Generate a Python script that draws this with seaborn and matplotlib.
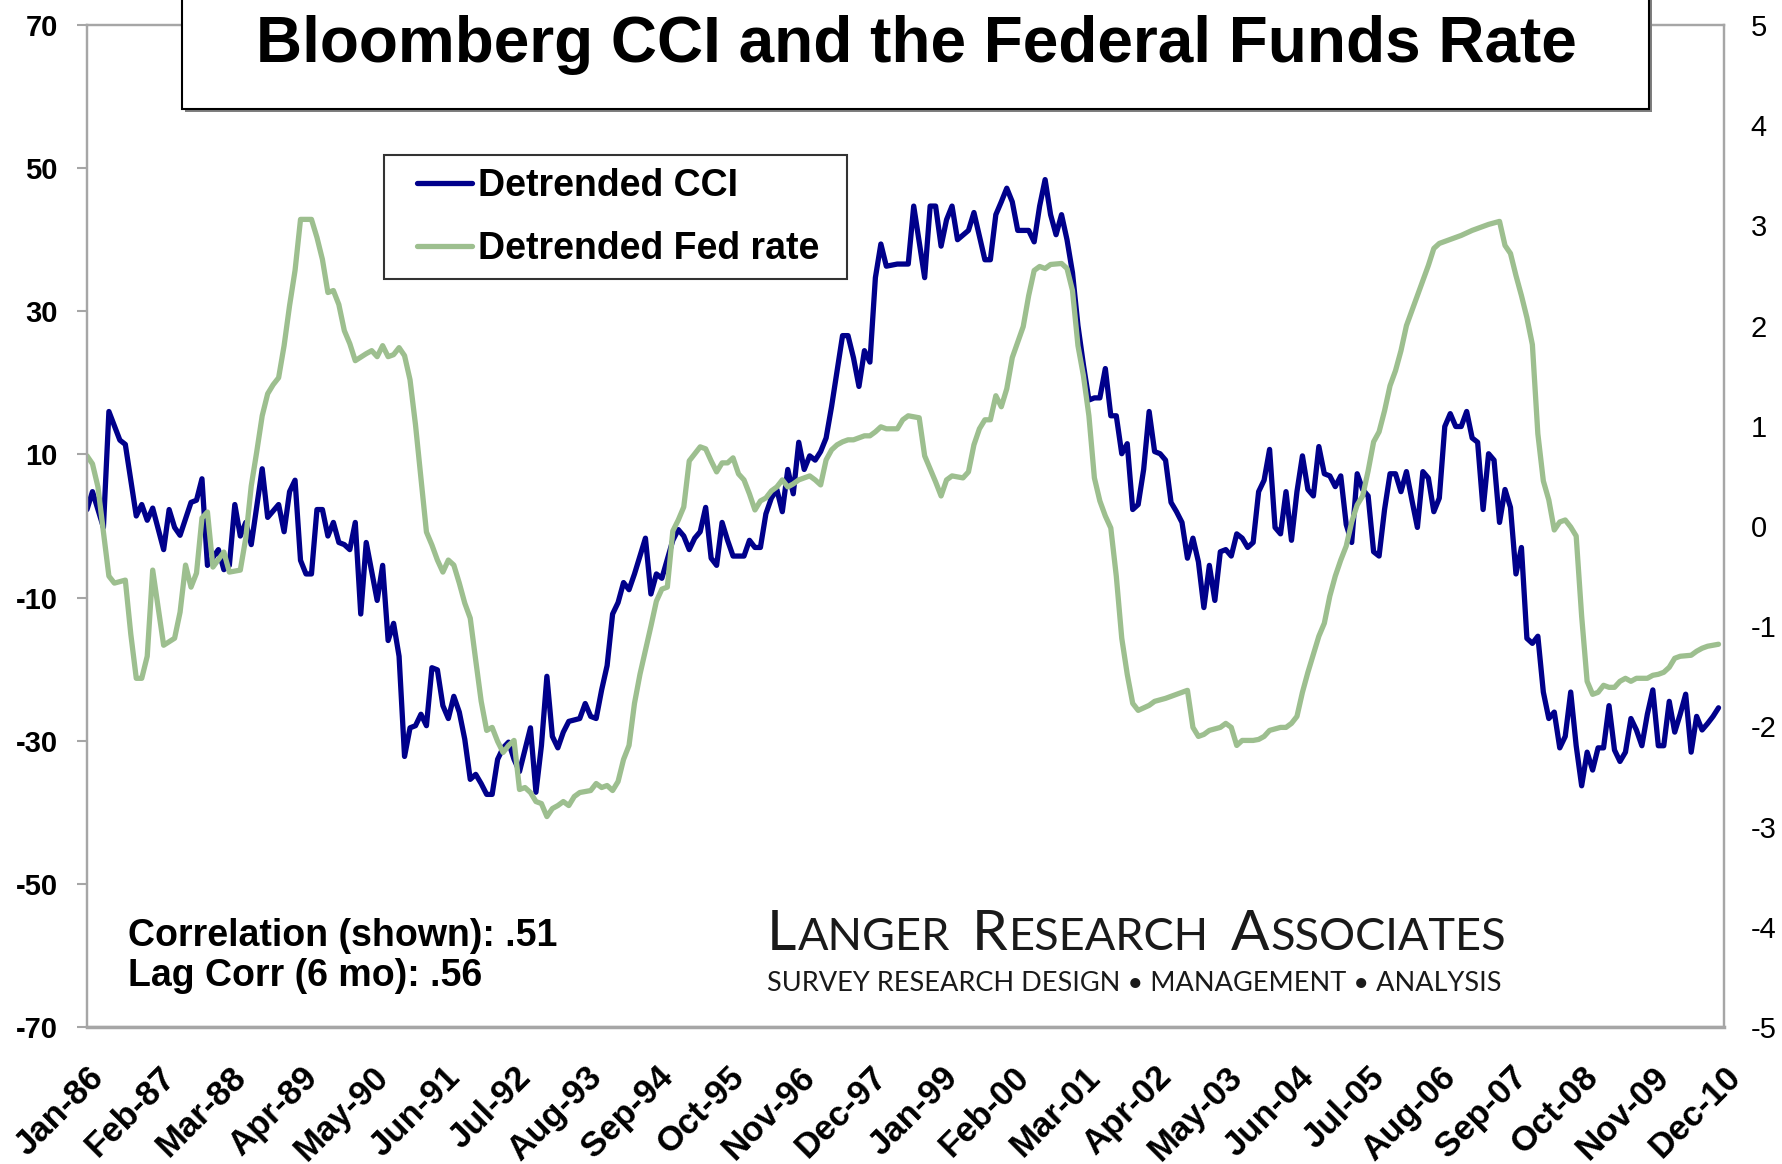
import seaborn as sns
import matplotlib.pyplot as plt
from matplotlib.patches import Rectangle
from matplotlib.lines import Line2D
from matplotlib.transforms import ScaledTranslation

# months counted from Jan-86, with the detrended CCI read at each turn of the line
cci_month = [
    0, 1, 3, 4, 6, 7, 9, 10, 11, 12,
    14, 15, 16, 17, 19, 20, 21, 22, 24, 25,
    26, 27, 28, 29, 30, 32, 33, 35, 36, 37,
    38, 39, 40, 41, 42, 43, 44, 45, 46, 47,
    48, 49, 50, 51, 53, 54, 55, 56, 57, 58,
    59, 60, 61, 62, 63, 64, 65, 66, 67, 68,
    69, 70, 71, 72, 73, 74, 75, 76, 77, 78,
    79, 81, 82, 83, 84, 85, 86, 87, 88, 90,
    91, 92, 93, 94, 95, 96, 97, 98, 99, 100,
    102, 103, 104, 105, 107, 108, 109, 110, 111, 112,
    113, 114, 115, 116, 117, 118, 120, 121, 122, 123,
    124, 125, 126, 127, 128, 129, 130, 131, 132, 133,
    134, 135, 136, 137, 138, 139, 140, 141, 142, 143,
    144, 145, 146, 148, 150, 151, 153, 154, 155, 156,
    157, 158, 159, 161, 162, 164, 165, 166, 167, 168,
    169, 170, 172, 173, 174, 175, 176, 177, 178, 179,
    180, 181, 182, 183, 184, 185, 186, 187, 188, 189,
    190, 191, 192, 193, 194, 195, 196, 197, 198, 199,
    200, 201, 202, 203, 204, 205, 206, 207, 208, 209,
    210, 211, 212, 213, 214, 215, 216, 217, 218, 219,
    220, 221, 222, 223, 224, 225, 226, 227, 228, 229,
    230, 231, 232, 233, 234, 235, 236, 237, 238, 239,
    240, 241, 242, 243, 244, 245, 246, 247, 248, 249,
    250, 251, 252, 253, 254, 255, 256, 257, 258, 259,
    260, 261, 262, 263, 264, 265, 266, 267, 268, 269,
    270, 271, 272, 273, 274, 275, 276, 277, 278, 279,
    280, 281, 282, 283, 284, 285, 286, 287, 288, 289,
    290, 291, 292, 293, 294, 295, 296, 297, 298,
]
cci_value = [
    2.3, 4.8, -0.2, 16, 12, 11.4, 1.4, 3, 0.8, 2.5,
    -3.3, 2.3, -0.2, -1.3, 3.3, 3.6, 6.6, -5.5, -3.3, -6.1,
    -5.5, 3, -1.4, 0.5, -2.6, 8, 1.2, 3, -0.8, 4.8,
    6.4, -4.8, -6.7, -6.7, 2.3, 2.3, -1.4, 0.5, -2.3, -2.6,
    -3.3, 0.5, -12.3, -2.3, -10.4, -5.5, -16, -13.6, -18.2, -32.2,
    -28.2, -27.9, -26.3, -27.9, -19.8, -20.1, -25.1, -26.9, -23.8, -26,
    -29.8, -35.4, -34.7, -36, -37.5, -37.5, -32.6, -31, -30.2, -32.6,
    -34.3, -28.2, -37.2, -30.7, -21, -29.4, -31, -28.8, -27.3, -26.9,
    -24.8, -26.6, -26.9, -22.9, -19.5, -12.3, -10.7, -7.9, -8.9, -6.7,
    -1.7, -9.5, -6.7, -7.3, -2, -0.5, -1.4, -3.3, -1.7, -0.8,
    2.6, -4.5, -5.5, 0.5, -2, -4.2, -4.2, -2, -3, -3,
    1.7, 3.9, 5.1, 2, 7.9, 4.5, 11.7, 7.9, 9.8, 9.2,
    10.4, 12.3, 16.7, 21.7, 26.6, 26.6, 23.5, 19.5, 24.5, 22.9,
    34.7, 39.4, 36.3, 36.6, 36.6, 44.7, 34.7, 44.7, 44.7, 39.1,
    42.8, 44.7, 40, 41.3, 43.8, 37.2, 37.2, 43.5, 45.3, 47.2,
    45.3, 41.3, 41.3, 39.7, 44.7, 48.4, 43.5, 40.7, 43.5, 40,
    35.4, 28, 22.5, 17.6, 17.9, 17.9, 22, 15.4, 15.4, 10.1,
    11.5, 2.3, 3, 7.9, 16, 10.4, 10.1, 9.2, 3.3, 2,
    0.5, -4.5, -1.7, -5, -11.4, -5.5, -10.4, -3.6, -3.3, -4.2,
    -1.1, -1.7, -3, -2.3, 4.8, 6.4, 10.7, -0.2, -1.1, 4.8,
    -2, 4.8, 9.8, 5.1, 4.2, 11.1, 7.3, 7, 5.5, 7,
    0.2, -2.3, 7.3, 5.1, 4.2, -3.6, -4.2, 2.3, 7.3, 7.3,
    4.8, 7.6, 3.6, -0.2, 7.6, 6.7, 2, 3.9, 13.9, 15.7,
    13.9, 13.9, 16, 12.3, 11.7, 2.3, 10.1, 9.2, 0.5, 5.1,
    2.6, -6.7, -3, -15.7, -16.4, -15.4, -23.2, -26.9, -26, -31,
    -29.4, -23.2, -30.7, -36.3, -31.6, -34.1, -31, -31, -25.1, -31.3,
    -32.9, -31.6, -26.9, -28.5, -30.7, -26.3, -22.9, -30.7, -30.7, -24.5,
    -28.8, -26.3, -23.5, -31.6, -26.6, -28.5, -27.6, -26.6, -25.4,
]

# detrended fed funds rate (right axis), same month count
fed_month = [
    0, 1, 2, 3, 4, 5, 7, 8, 9, 10,
    11, 12, 14, 16, 17, 18, 19, 20, 21, 22,
    23, 25, 26, 28, 29, 30, 31, 32, 33, 34,
    35, 36, 37, 38, 39, 41, 42, 43, 44, 45,
    46, 47, 48, 49, 51, 52, 53, 54, 55, 56,
    57, 58, 59, 60, 61, 62, 63, 64, 65, 66,
    67, 68, 69, 70, 71, 72, 73, 74, 75, 76,
    77, 78, 79, 80, 81, 82, 83, 84, 85, 86,
    87, 88, 89, 90, 92, 93, 94, 95, 96, 97,
    98, 99, 100, 101, 102, 103, 104, 105, 106, 107,
    108, 109, 110, 111, 112, 113, 114, 115, 116, 117,
    118, 119, 120, 121, 122, 123, 124, 125, 126, 127,
    128, 129, 130, 131, 132, 133, 134, 135, 136, 137,
    138, 139, 140, 141, 142, 143, 144, 145, 146, 148,
    149, 150, 152, 153, 155, 156, 157, 158, 160, 161,
    162, 163, 164, 165, 166, 167, 168, 169, 171, 172,
    173, 174, 175, 176, 178, 179, 180, 181, 182, 183,
    184, 185, 186, 187, 188, 189, 190, 191, 192, 194,
    195, 197, 198, 200, 201, 202, 203, 204, 205, 207,
    208, 209, 210, 211, 213, 214, 215, 216, 218, 219,
    220, 221, 222, 223, 224, 225, 226, 227, 228, 229,
    230, 231, 232, 233, 234, 235, 236, 237, 238, 239,
    240, 241, 242, 243, 244, 245, 246, 247, 248, 250,
    251, 253, 254, 256, 258, 259, 260, 261, 262, 263,
    264, 265, 266, 267, 268, 269, 270, 271, 272, 273,
    274, 275, 276, 277, 278, 279, 280, 281, 282, 283,
    285, 286, 287, 288, 289, 290, 291, 293, 294, 295,
    296, 298,
]
fed_value = [
    0.70, 0.62, 0.39, -0.06, -0.50, -0.57, -0.54, -1.08, -1.52, -1.52,
    -1.30, -0.44, -1.19, -1.12, -0.86, -0.39, -0.61, -0.47, 0.08, 0.14,
    -0.41, -0.26, -0.46, -0.44, -0.12, 0.40, 0.74, 1.10, 1.32, 1.41,
    1.48, 1.80, 2.20, 2.55, 3.06, 3.06, 2.88, 2.66, 2.33, 2.35,
    2.21, 1.95, 1.82, 1.65, 1.72, 1.75, 1.69, 1.80, 1.69, 1.71,
    1.78, 1.70, 1.46, 1.01, 0.48, -0.06, -0.19, -0.34, -0.46, -0.34,
    -0.39, -0.57, -0.77, -0.92, -1.34, -1.75, -2.04, -2.01, -2.15, -2.26,
    -2.19, -2.14, -2.63, -2.61, -2.66, -2.75, -2.77, -2.90, -2.82, -2.79,
    -2.75, -2.79, -2.70, -2.66, -2.64, -2.57, -2.61, -2.59, -2.64, -2.55,
    -2.33, -2.19, -1.77, -1.48, -1.24, -1.00, -0.75, -0.63, -0.61, -0.05,
    0.06, 0.19, 0.65, 0.72, 0.79, 0.77, 0.65, 0.54, 0.63, 0.63,
    0.68, 0.52, 0.46, 0.32, 0.16, 0.25, 0.28, 0.35, 0.39, 0.46,
    0.39, 0.42, 0.46, 0.48, 0.50, 0.46, 0.41, 0.66, 0.76, 0.81,
    0.84, 0.86, 0.86, 0.88, 0.90, 0.90, 0.94, 0.99, 0.97, 0.97,
    1.06, 1.10, 1.08, 0.70, 0.44, 0.30, 0.46, 0.50, 0.48, 0.54,
    0.81, 0.97, 1.06, 1.06, 1.30, 1.19, 1.37, 1.68, 1.99, 2.30,
    2.55, 2.59, 2.57, 2.61, 2.62, 2.57, 2.35, 1.80, 1.50, 1.10,
    0.48, 0.25, 0.10, -0.02, -0.50, -1.12, -1.48, -1.77, -1.84, -1.79,
    -1.75, -1.72, -1.70, -1.66, -1.64, -2.01, -2.10, -2.08, -2.04, -2.01,
    -1.97, -2.01, -2.19, -2.14, -2.14, -2.13, -2.10, -2.04, -2.01, -2.01,
    -1.97, -1.90, -1.66, -1.46, -1.28, -1.10, -0.97, -0.70, -0.50, -0.34,
    -0.20, 0.04, 0.21, 0.30, 0.55, 0.84, 0.94, 1.15, 1.40, 1.55,
    1.75, 2.00, 2.15, 2.30, 2.45, 2.60, 2.77, 2.82, 2.84, 2.88,
    2.90, 2.95, 2.97, 3.01, 3.04, 2.80, 2.72, 2.50, 2.30, 2.08,
    1.81, 0.92, 0.45, 0.26, -0.04, 0.04, 0.06, -0.01, -0.10, -0.90,
    -1.55, -1.68, -1.66, -1.59, -1.61, -1.61, -1.55, -1.52, -1.55, -1.52,
    -1.52, -1.49, -1.48, -1.46, -1.41, -1.32, -1.30, -1.29, -1.25, -1.22,
    -1.20, -1.18,
]

tick_labels = ["Jan-86", "Feb-87", "Mar-88", "Apr-89", "May-90", "Jun-91",
               "Jul-92", "Aug-93", "Sep-94", "Oct-95", "Nov-96", "Dec-97",
               "Jan-99", "Feb-00", "Mar-01", "Apr-02", "May-03", "Jun-04",
               "Jul-05", "Aug-06", "Sep-07", "Oct-08", "Nov-09", "Dec-10"]
tick_months = [13 * i for i in range(len(tick_labels))]

assert len(cci_month) == len(cci_value)
assert len(fed_month) == len(fed_value)

navy = "#00008b"
sage = "#9dbf8f"
axis_grey = "#a6a6a6"

sns.set_theme(style="white")
plt.rcParams["font.family"] = ["Liberation Sans", "DejaVu Sans"]
plt.rcParams["text.color"] = "black"
plt.rcParams["xtick.color"] = "black"
plt.rcParams["ytick.color"] = "black"
plt.rcParams["axes.unicode_minus"] = False

W, H = 1783, 1164
fig = plt.figure(figsize=(W / 100, H / 100), dpi=100)
ax = fig.add_axes([87 / W, 1 - 1027 / H, (1724 - 87) / W, (1027 - 25) / H])

sns.lineplot(x=cci_month, y=cci_value, ax=ax, color=navy, linewidth=3.8)
ax.set_xlim(0, 299)
ax.set_ylim(-70, 70)
ax.set_yticks(range(-70, 71, 20))
ax.set_xticks(tick_months)
ax.set_xticklabels(tick_labels, rotation=45, ha="right", va="top",
                   rotation_mode="anchor", fontweight="bold", fontsize=25)
shift = ScaledTranslation(9 / 100, 0, fig.dpi_scale_trans)
for lab in ax.get_xticklabels():
    lab.set_transform(lab.get_transform() + shift)
for lab in ax.get_yticklabels():
    lab.set_fontweight("bold")
ax.tick_params(axis="y", labelsize=21, direction="out", length=7, width=1.5,
               color=axis_grey, labelcolor="black", pad=14, left=True)
ax.tick_params(axis="x", length=0, pad=24, labelcolor="black")

ax2 = ax.twinx()
sns.lineplot(x=fed_month, y=fed_value, ax=ax2, color=sage, linewidth=3.8)
ax2.set_ylim(-5, 5)
ax2.set_yticks(range(-5, 6))
ax2.tick_params(axis="y", labelsize=21, length=0, pad=19, labelcolor="black")

for a in (ax, ax2):
    a.set_xlabel("")
    a.set_ylabel("")
    for side in ("left", "right", "top", "bottom"):
        a.spines[side].set_color(axis_grey)
        a.spines[side].set_linewidth(1.6)
ax.spines["bottom"].set_linewidth(2.5)

# legend: frame drawn as its own box so the padding matches the original
ax2.add_patch(Rectangle(((384 - 87) / 1637, (1027 - 279) / 1002), 463 / 1637, 124 / 1002,
                        transform=ax2.transAxes, facecolor="white", edgecolor="#333333",
                        linewidth=1.5, zorder=4, clip_on=False))
handles = [Line2D([], [], color=navy, lw=3.8), Line2D([], [], color=sage, lw=3.8)]
leg = ax2.legend(handles, ["Detrended CCI", "Detrended Fed rate"],
                 loc="upper left", bbox_to_anchor=((417 - 87) / 1637, (1027 - 168) / 1002),
                 borderaxespad=0, borderpad=0, frameon=False,
                 prop={"weight": "bold", "size": 27}, handlelength=1.46,
                 handletextpad=0.16, labelspacing=0.72)
leg.set_zorder(6)

# title box sitting over the top edge of the plot
fig.patches.append(Rectangle((185 / W, 1 - 112 / H), (1649 - 182) / W, 0.2,
                             transform=fig.transFigure, facecolor="#7f7f7f",
                             edgecolor="none", zorder=5))
fig.patches.append(Rectangle((182 / W, 1 - 109 / H), (1649 - 182) / W, 0.2,
                             transform=fig.transFigure, facecolor="white",
                             edgecolor="black", linewidth=1.5, zorder=6))
fig.text(916 / W, 1 - 45 / H, "Bloomberg CCI and the Federal Funds Rate",
         ha="center", va="center", fontsize=46, fontweight="bold", zorder=7)

fig.text(128 / W, 1 - 946 / H, "Correlation (shown): .51", fontsize=27,
         fontweight="bold", va="baseline")
fig.text(128 / W, 1 - 986 / H, "Lag Corr (6 mo): .56", fontsize=27,
         fontweight="bold", va="baseline")

# logo in small caps, built piece by piece
renderer = fig.canvas.get_renderer()
logo_font = ["Lato", "DejaVu Sans"]
x = 767
for word in ["LANGER", "RESEARCH", "ASSOCIATES"]:
    for piece, size in ((word[0], 41), (word[1:], 32.5)):
        t = fig.text(x / W, 1 - 950 / H, piece, fontsize=size, family=logo_font,
                     color="#1a1a1a", va="baseline", ha="left")
        x = t.get_window_extent(renderer=renderer).x1 + 1
    x += 21
fig.text(767 / W, 1 - 991 / H, "SURVEY RESEARCH DESIGN \u2022 MANAGEMENT \u2022 ANALYSIS",
         fontsize=19.5, family=logo_font, color="#1a1a1a", va="baseline", ha="left")

fig.savefig("out.png", dpi=100, facecolor="white")
